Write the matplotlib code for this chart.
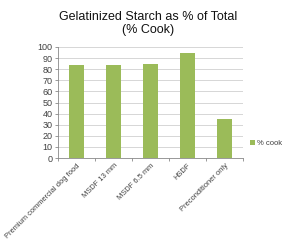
import matplotlib
matplotlib.use('Agg')
import matplotlib.pyplot as plt
import numpy as np

# Datos
categories = ['Premium commercial dog food', 'MSDF 13 mm', 'MSDF 6.5 mm',
              'HSDF', 'Preconditioner only']
cook_pct = [84, 84, 85, 95, 35]
series_name = '% cook'
yticks = list(range(0, 101, 10))

plt.rcParams['font.family'] = ['Liberation Sans', 'DejaVu Sans']

fig = plt.figure(figsize=(2.95, 2.5), dpi=100)
ax = fig.add_axes([0.197, 0.368, 0.627, 0.444])

x = np.arange(len(categories))
ax.bar(x, cook_pct, width=0.4, color='#9BBB59', label=series_name, zorder=3)

ax.set_xlim(-0.5, len(categories) - 0.5)
ax.set_ylim(0, 100)
ax.set_yticks(yticks)
ax.tick_params(axis='y', labelsize=6.5, colors='#404040', length=2, width=0.6,
               color='#888888', pad=2)
ax.grid(True, axis='y', color='#d0d0d0', linewidth=0.6, zorder=0)

# Ticks del eje x entre categorías, estilo Excel
ax.set_xticks(x)
ax.set_xticklabels(categories, rotation=45, ha='right', rotation_mode='anchor',
                   fontsize=5.4, color='#404040')
ax.set_xticks(np.arange(-0.5, len(categories)), minor=True)
ax.tick_params(axis='x', which='major', length=0, pad=3)
ax.tick_params(axis='x', which='minor', length=2, width=0.6, color='#888888')

for side in ['top', 'right']:
    ax.spines[side].set_visible(False)
for side in ['left', 'bottom']:
    ax.spines[side].set_color('#888888')
    ax.spines[side].set_linewidth(0.6)

fig.text(0.502, 0.905, 'Gelatinized Starch as % of Total\n(% Cook)',
         ha='center', va='center', fontsize=9, color='#111111', linespacing=1.15)

ax.legend(loc='center left', bbox_to_anchor=(1.0, 0.13), frameon=False,
          fontsize=5.5, handlelength=0.6, handleheight=0.6, handletextpad=0.3,
          labelcolor='#404040')

fig.savefig('out.png', dpi=100)
